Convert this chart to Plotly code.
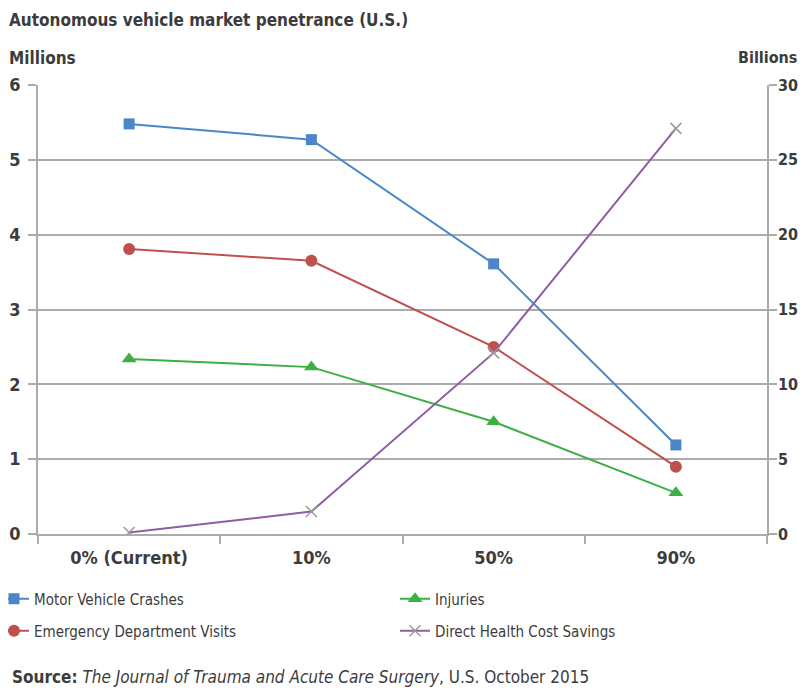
import plotly.graph_objects as go

categories = ["0% (Current)", "10%", "50%", "90%"]
crashes = [5.48, 5.27, 3.61, 1.19]
ed_visits = [3.81, 3.65, 2.50, 0.90]
injuries = [2.34, 2.23, 1.50, 0.55]
cost_savings = [0.1, 1.5, 12.1, 27.1]

FONT = "DejaVu Sans Condensed, Liberation Sans, Arial, sans-serif"
TXT = "#3c3c3c"
GRID = "#ababab"

# page body has an 8px default margin; compensate so the chart lands at page pixels
OFF = 8
L, R, T, B = 38, 767, 85, 534          # plot area in page pixels
W, H = 806 - OFF, 692 - OFF


def px(x):
    return (x - L) / (R - L)


def py(y):
    return (B - y) / (B - T)


fig = go.Figure()

fig.add_trace(go.Scatter(
    x=categories, y=crashes, name="Motor Vehicle Crashes", mode="lines+markers",
    line=dict(color="#4a86c8", width=2),
    marker=dict(symbol="square", size=11, color="#4a86c8"),
    legend="legend"))
fig.add_trace(go.Scatter(
    x=categories, y=ed_visits, name="Emergency Department Visits", mode="lines+markers",
    line=dict(color="#c0504d", width=2),
    marker=dict(symbol="circle", size=12, color="#c0504d"),
    legend="legend2"))
fig.add_trace(go.Scatter(
    x=categories, y=injuries, name="Injuries", mode="lines+markers",
    line=dict(color="#3cb043", width=2),
    marker=dict(symbol="triangle-up", size=13, color="#3cb043"),
    legend="legend3"))
fig.add_trace(go.Scatter(
    x=categories, y=cost_savings, name="Direct Health Cost Savings", mode="lines+markers",
    line=dict(color="#8e5ea2", width=2),
    marker=dict(symbol="x-thin", size=11, line=dict(color="#9a9a9a", width=1.5)),
    yaxis="y2", legend="legend4"))

legend_common = dict(
    orientation="h", xanchor="left", yanchor="middle",
    font=dict(family=FONT, size=15, color=TXT),
    bgcolor="rgba(0,0,0,0)", itemwidth=30,
)

fig.update_layout(
    width=W, height=H,
    margin=dict(l=L - OFF, r=W - (R - OFF), t=T - OFF, b=H - (B - OFF), autoexpand=False),
    paper_bgcolor="white", plot_bgcolor="white",
    font=dict(family=FONT, color=TXT),
    showlegend=True,
    legend=dict(x=px(-6), y=py(599), **legend_common),
    legend2=dict(x=px(-6), y=py(631), **legend_common),
    legend3=dict(x=px(395), y=py(599), **legend_common),
    legend4=dict(x=px(395), y=py(631), **legend_common),
    xaxis=dict(
        type="category", range=[-0.5, 3.5],
        showline=True, linecolor=GRID, linewidth=1.5,
        ticks="outside", ticklen=8, tickcolor=GRID, tickwidth=1.5,
        tickson="boundaries", showgrid=False, ticklabelstandoff=7,
        tickfont=dict(family=FONT, size=18, color=TXT, weight="bold"),
    ),
    yaxis=dict(
        range=[0, 6], dtick=1, tick0=0,
        showline=True, linecolor=GRID, linewidth=1.5,
        ticks="outside", ticklen=8, tickcolor=GRID, tickwidth=1.5,
        showgrid=True, gridcolor=GRID, gridwidth=1.5, zeroline=False,
        ticklabelstandoff=4,
        tickfont=dict(family=FONT, size=18, color=TXT, weight="bold"),
    ),
    yaxis2=dict(
        range=[0, 30], dtick=5, tick0=0, overlaying="y", side="right",
        showline=True, linecolor=GRID, linewidth=1.5,
        ticks="outside", ticklen=8, tickcolor=GRID, tickwidth=1.5,
        showgrid=False, zeroline=False, ticklabelstandoff=-2,
        tickfont=dict(family=FONT, size=16, color=TXT, weight="bold"),
    ),
)

annotations = [
    dict(text="<b>Autonomous vehicle market penetrance (U.S.)</b>", x=px(7), y=py(20),
         xanchor="left", yanchor="middle", font=dict(size=17)),
    dict(text="<b>Millions</b>", x=px(7), y=py(58),
         xanchor="left", yanchor="middle", font=dict(size=17)),
    dict(text="<b>Billions</b>", x=px(799), y=py(58),
         xanchor="right", yanchor="middle", font=dict(size=16)),
    dict(text="<b>Source:</b> <i>The Journal of Trauma and Acute Care Surgery</i>, U.S. October 2015",
         x=px(10), y=py(677), xanchor="left", yanchor="middle", font=dict(size=17)),
]
for a in annotations:
    a.update(xref="paper", yref="paper", showarrow=False)
    a["font"].update(family=FONT, color=TXT)
fig.update_layout(annotations=annotations)

fig.write_html("out.html")
